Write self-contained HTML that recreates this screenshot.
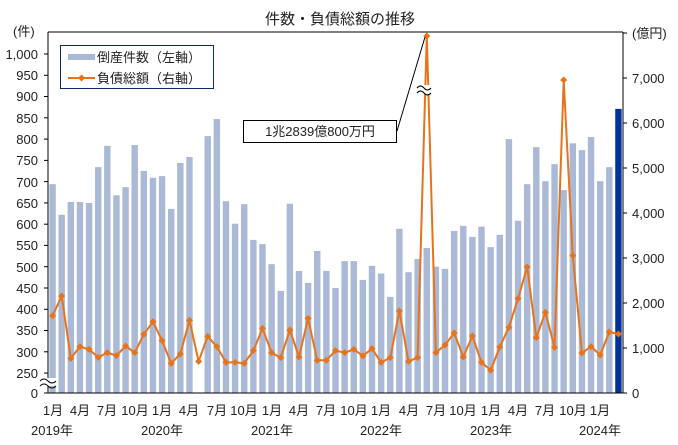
<!DOCTYPE html>
<html><head><meta charset="utf-8"><style>
html,body{margin:0;padding:0;background:#fff}
svg{display:block;font-family:"Liberation Sans","Noto Sans CJK JP",sans-serif}
</style></head><body>
<svg id="s" width="678" height="445" viewBox="0 0 678 445" xmlns="http://www.w3.org/2000/svg">
<rect width="678" height="445" fill="#fff"/>
<g id="bars"></g>
<text x="340" y="24" font-size="15" text-anchor="middle" fill="#222">件数・負債総額の推移</text>
<line x1="48" y1="32" x2="623" y2="32" stroke="#000"/>
<line x1="48" y1="32" x2="48" y2="393" stroke="#000"/>
<line x1="623" y1="32" x2="623" y2="393" stroke="#000"/>
<line x1="48" y1="393" x2="623" y2="393" stroke="#000"/>
<g id="ticks" stroke="#000"></g>
<g font-size="13" fill="#222" text-anchor="end">
<text x="38" y="59">1,000</text><text x="38" y="80">950</text><text x="38" y="101">900</text><text x="38" y="123">850</text><text x="38" y="144">800</text><text x="38" y="165">750</text><text x="38" y="187">700</text><text x="38" y="208">650</text><text x="38" y="229">600</text><text x="38" y="250">550</text><text x="38" y="272">500</text><text x="38" y="293">450</text><text x="38" y="314">400</text><text x="38" y="335">350</text><text x="38" y="357">300</text><text x="38" y="378">250</text><text x="38" y="398">0</text>
</g>
<text x="13" y="36" font-size="13" fill="#222">(件)</text>
<g font-size="13" fill="#222">
<text x="632" y="38">(億円)</text>
<text x="632" y="83">7,000</text><text x="632" y="128">6,000</text><text x="632" y="173">5,000</text><text x="632" y="218">4,000</text><text x="632" y="263">3,000</text><text x="632" y="308">2,000</text><text x="632" y="353">1,000</text><text x="632" y="398">0</text>
</g>
<g font-size="13" fill="#222" text-anchor="middle">
<text x="53" y="415">1月</text><text x="80" y="415">4月</text><text x="107" y="415">7月</text><text x="135" y="415">10月</text>
<text x="162" y="415">1月</text><text x="189" y="415">4月</text><text x="217" y="415">7月</text><text x="244" y="415">10月</text>
<text x="272" y="415">1月</text><text x="299" y="415">4月</text><text x="326" y="415">7月</text><text x="354" y="415">10月</text>
<text x="381" y="415">1月</text><text x="409" y="415">4月</text><text x="436" y="415">7月</text><text x="463" y="415">10月</text>
<text x="491" y="415">1月</text><text x="518" y="415">4月</text><text x="545" y="415">7月</text><text x="573" y="415">10月</text>
<text x="600" y="415">1月</text>
<text x="52" y="435">2019年</text><text x="162" y="435">2020年</text><text x="272" y="435">2021年</text><text x="381" y="435">2022年</text><text x="491" y="435">2023年</text><text x="600" y="435">2024年</text>
</g>
<g id="line"></g>
<!-- left axis break -->
<rect x="40" y="378" width="16" height="8" fill="#fff"/>
<path d="M40,381 q4,-4 8,0 t8,0 M40,386 q4,-4 8,0 t8,0" fill="none" stroke="#000" stroke-width="1"/>
<!-- spike break -->
<rect x="417" y="85" width="14" height="9" fill="#fff"/>
<path d="M417,88 q3.5,-4 7,0 t7,0 M417,93 q3.5,-4 7,0 t7,0" fill="none" stroke="#000" stroke-width="1"/>
<!-- callout -->
<line x1="397" y1="131" x2="425" y2="37" stroke="#000" stroke-width="1"/>
<rect x="243.5" y="120.5" width="153" height="22" fill="#fff" stroke="#000"/>
<text x="320" y="136" font-size="13" text-anchor="middle" fill="#222">1兆2839億800万円</text>
<!-- legend -->
<rect x="60.5" y="45.5" width="153" height="43" fill="#fff" stroke="#0a2a6b"/>
<rect x="68" y="54" width="27" height="6" fill="#a9b9d6"/>
<text x="97" y="62" font-size="13" fill="#222">倒産件数（左軸）</text>
<line x1="68" y1="78" x2="95" y2="78" stroke="#e8731a" stroke-width="2"/>
<path d="M81.5,74.5 L85,78 L81.5,81.5 L78,78Z" fill="#e8731a"/>
<text x="97" y="83" font-size="13" fill="#222">負債総額（右軸）</text>
</svg>
<script>
var bars=[694,622,652,652,650,734,784,668,687,786,725,709,713,636,744,758,0,807,847,654,601,647,563,553,506,443,648,490,462,537,490,450,513,513,469,502,484,429,589,487,518,544,500,495,584,596,570,594,546,575,800,608,694,781,701,741,680,790,774,805,701,734,871];
var line=[1718,2155,770,1030,970,793,896,830,1044,896,1304,1585,1163,659,867,1615,704,1259,1030,681,681,659,941,1437,896,785,1400,800,1659,726,726,941,896,970,826,985,681,785,1822,704,785,null,896,1067,1333,800,1267,681,504,1022,1459,2096,2800,1230,1793,1015,6955,3052,889,1030,844,1356,1311];
var NS="http://www.w3.org/2000/svg",bw=575/63;
function el(t,a,p){var e=document.createElementNS(NS,t);for(var k in a)e.setAttribute(k,a[k]);p.appendChild(e);return e;}
var bg=document.getElementById('bars');
bars.forEach(function(v,i){if(!v)return;var y=54+(1000-v)*0.4254;var cx=48+bw*(i+0.5);
el('rect',{x:cx-3.2,y:y,width:6.4,height:393-y,fill:i==62?'#003399':'#a9b9d6'},bg);});
var lg=document.getElementById('line'),pts=[];
line.forEach(function(v,i){var cx=48+bw*(i+0.5);var y=v===null?36:393-v*0.045;pts.push([cx,y]);});
el('polyline',{points:pts.map(function(p){return p[0].toFixed(1)+','+p[1].toFixed(1)}).join(' '),fill:'none',stroke:'#e8731a','stroke-width':2,'stroke-linejoin':'round'},lg);
pts.forEach(function(p){el('path',{d:'M'+p[0]+','+(p[1]-3.5)+' l3.5,3.5 l-3.5,3.5 l-3.5,-3.5z',fill:'#e8731a'},lg);});
var tg=document.getElementById('ticks');
[54,75.3,96.5,117.8,139.1,160.4,181.6,202.9,224.2,245.4,266.7,288,309.3,330.5,351.8,373.1,393].forEach(function(y){el('line',{x1:44,y1:y,x2:48,y2:y},tg);});
[33,78,123,168,213,258,303,348,393].forEach(function(y){el('line',{x1:623,y1:y,x2:627,y2:y},tg);});
</script>
</body></html>
